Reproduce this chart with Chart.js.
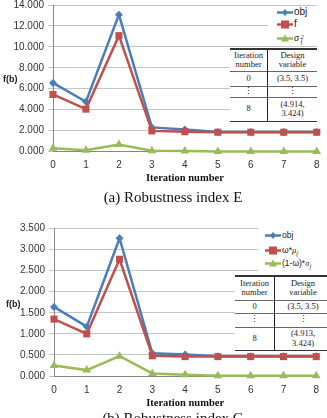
<!DOCTYPE html>
<html>
<head>
<meta charset="utf-8">
<script src="https://cdn.jsdelivr.net/npm/chart.js@4"></script>
<style>
  body { margin: 0; width: 327px; height: 418px; overflow: hidden; background: #fff; position: relative; font-family: "Liberation Sans", Arial, sans-serif; }
  canvas { position: absolute; left: 0; }
  .ylab { position: absolute; font: bold 9px "Liberation Sans", Arial, sans-serif; color: #222; }
  .cap { position: absolute; left: 0; width: 346px; text-align: center; font: 15px/18px "Liberation Serif", serif; color: #111; }
  .leg { position: absolute; background: #fff; }
  .leg div { position: absolute; left: 0; height: 12px; line-height: 12px; font-size: 9.5px; color: #222; white-space: nowrap; }
  .leg svg { vertical-align: middle; margin-right: 1px; }
  .leg i { font-family: "Liberation Serif", serif; }
  table.dv { position: absolute; background: #fff; border-collapse: collapse; font: 8.5px/9.5px "Liberation Serif", serif; color: #222; text-align: center; }
  table.dv td { padding: 0; border-top: 1px solid #666; }
  table.dv tr:first-child td { border-top: 2px solid #333; }
  table.dv tr:last-child td { border-bottom: 1px solid #333; }
  table.dv td:first-child { border-right: 1px solid #222; }
</style>
</head>
<body>
<canvas id="chartE" style="top:-10px"></canvas>
<canvas id="chartG" style="top:213px"></canvas>

<div class="ylab" style="left:3px;top:74px">f(b)</div>
<div class="ylab" style="left:6px;top:299px">f(b)</div>

<div class="leg" id="legE" style="left:268px;top:6px;width:59px;height:40px"></div>
<div class="leg" id="legG" style="left:258px;top:228px;width:69px;height:45px"></div>

<table class="dv" style="left:230px;top:48px;width:87px">
  <tr style="height:22px"><td style="width:37px">Iteration<br>number</td><td>Design<br>variable</td></tr>
  <tr style="height:15px"><td>0</td><td>(3.5, 3.5)</td></tr>
  <tr style="height:11px"><td>⋮</td><td>⋮</td></tr>
  <tr style="height:24px"><td>8</td><td>(4.914,<br>3.424)</td></tr>
</table>
<table class="dv" style="left:235px;top:275px;width:96px">
  <tr style="height:24px"><td style="width:39px">Iteration<br>number</td><td>Design<br>variable</td></tr>
  <tr style="height:13px"><td>0</td><td>(3.5, 3.5)</td></tr>
  <tr style="height:14px"><td>⋮</td><td>⋮</td></tr>
  <tr style="height:23px"><td>8</td><td>(4.913,<br>3.424)</td></tr>
</table>

<div class="cap" style="top:188px">(a) Robustness index E</div>
<div class="cap" style="top:409px">(b) Robustness index G</div>

<script>
const iterations = ["0", "1", "2", "3", "4", "5", "6", "7", "8"];

// (a) robustness index E
const objE = [6.55, 4.75, 13.08, 2.3, 2.1, 1.87, 1.87, 1.87, 1.87];
const fE = [5.45, 4.05, 11.07, 1.97, 1.89, 1.84, 1.84, 1.84, 1.84];
const sigmaE = [0.3, 0.12, 0.67, 0.08, 0.05, 0.01, 0.01, 0.01, 0.01];
const namesE = ["obj", "f", '<i>σ</i><span style="display:inline-block;vertical-align:middle;line-height:5px;font-size:6.5px;font-family:Liberation Serif"><i>&nbsp;2</i><br><i>&nbsp;f</i></span>'];

// (b) robustness index G
const objG = [1.64, 1.17, 3.27, 0.54, 0.51, 0.47, 0.47, 0.47, 0.47];
const muG = [1.35, 1.0, 2.77, 0.48, 0.46, 0.46, 0.46, 0.46, 0.46];
const sigmaG = [0.25, 0.14, 0.47, 0.06, 0.03, 0.005, 0.005, 0.005, 0.005];
const namesG = ["obj", 'ω*<i>μ</i><sub style="font-size:6px"><i>f</i></sub>', '(1-ω)*<i>σ</i><sub style="font-size:6px"><i>f</i></sub>'];

const colors = ["#4a7ebb", "#c0504d", "#9bbb59"];
const markers = ["rectRot", "rect", "triangle"];
const markerSizes = [4, 5, 5];

function markerSvg(i) {
  let m = "";
  if (i === 0) m = '<polygon points="8,3 11,6.5 8,10 5,6.5" fill="' + colors[0] + '"/>';
  if (i === 1) m = '<rect x="4" y="2.5" width="8" height="8" fill="' + colors[1] + '"/>';
  if (i === 2) m = '<polygon points="8,2.5 12,9.5 4,9.5" fill="' + colors[2] + '"/>';
  return '<svg width="16" height="13"><line x1="0" y1="6.5" x2="16" y2="6.5" stroke="' + colors[i] + '" stroke-width="2.5"/>' + m + "</svg>";
}

function buildLegend(id, names, tops, fontSize) {
  const el = document.getElementById(id);
  names.forEach((n, i) => {
    const d = document.createElement("div");
    d.style.top = tops[i] + "px";
    d.style.left = tops.left + "px";
    d.style.fontSize = fontSize + "px";
    d.innerHTML = markerSvg(i) + n;
    el.appendChild(d);
  });
}

function makeChart(id, series, yMax, yStep, opt) {
  const canvas = document.getElementById(id);
  canvas.width = 327;
  canvas.height = opt.height;
  const tickFont = { family: "Liberation Sans", size: 10 };
  return new Chart(canvas.getContext("2d"), {
    type: "line",
    data: {
      labels: iterations,
      datasets: series.map((s, i) => ({
        data: s,
        borderColor: colors[i],
        backgroundColor: colors[i],
        borderWidth: 2.5,
        pointStyle: markers[i],
        pointRadius: markerSizes[i],
        pointBorderWidth: 0,
        tension: 0,
        clip: false,
        order: 2 - i,
      })),
    },
    options: {
      responsive: false,
      animation: false,
      layout: { padding: { top: opt.top, right: opt.right, left: 0, bottom: 0 } },
      plugins: { legend: { display: false }, tooltip: { enabled: false } },
      scales: {
        x: {
          offset: false,
          grid: { display: false, drawTicks: false },
          border: { color: "#868686" },
          ticks: { padding: opt.xPad, color: "#333", font: tickFont },
          title: {
            display: true,
            text: "Iteration number",
            color: "#111",
            padding: 0,
            font: { family: "Liberation Serif", weight: "bold", size: 10.5 },
          },
          afterFit: (s) => { s.height = opt.xHeight; },
        },
        y: {
          min: 0,
          max: yMax,
          ticks: {
            stepSize: yStep,
            padding: 4,
            color: "#333",
            font: tickFont,
            callback: (v) => v.toFixed(3),
          },
          grid: { color: "#c4c4c4", tickLength: 5 },
          border: { color: "#868686" },
          afterFit: (s) => { s.width = opt.yWidth; },
        },
      },
    },
  });
}

makeChart("chartE", [objE, fE, sigmaE], 14, 2,
  { height: 195, top: 15, right: 8, xPad: 7.5, xHeight: 33.5, yWidth: 53 });
makeChart("chartG", [objG, muG, sigmaG], 3.5, 0.5,
  { height: 197, top: 15.5, right: 3, xPad: 8, xHeight: 34, yWidth: 54 });

const topsE = [0, 12, 26]; topsE.left = 9;
const topsG = [1, 16, 29]; topsG.left = 7;
buildLegend("legE", namesE, topsE, 10);
buildLegend("legG", namesG, topsG, 8.5);
</script>
</body>
</html>
